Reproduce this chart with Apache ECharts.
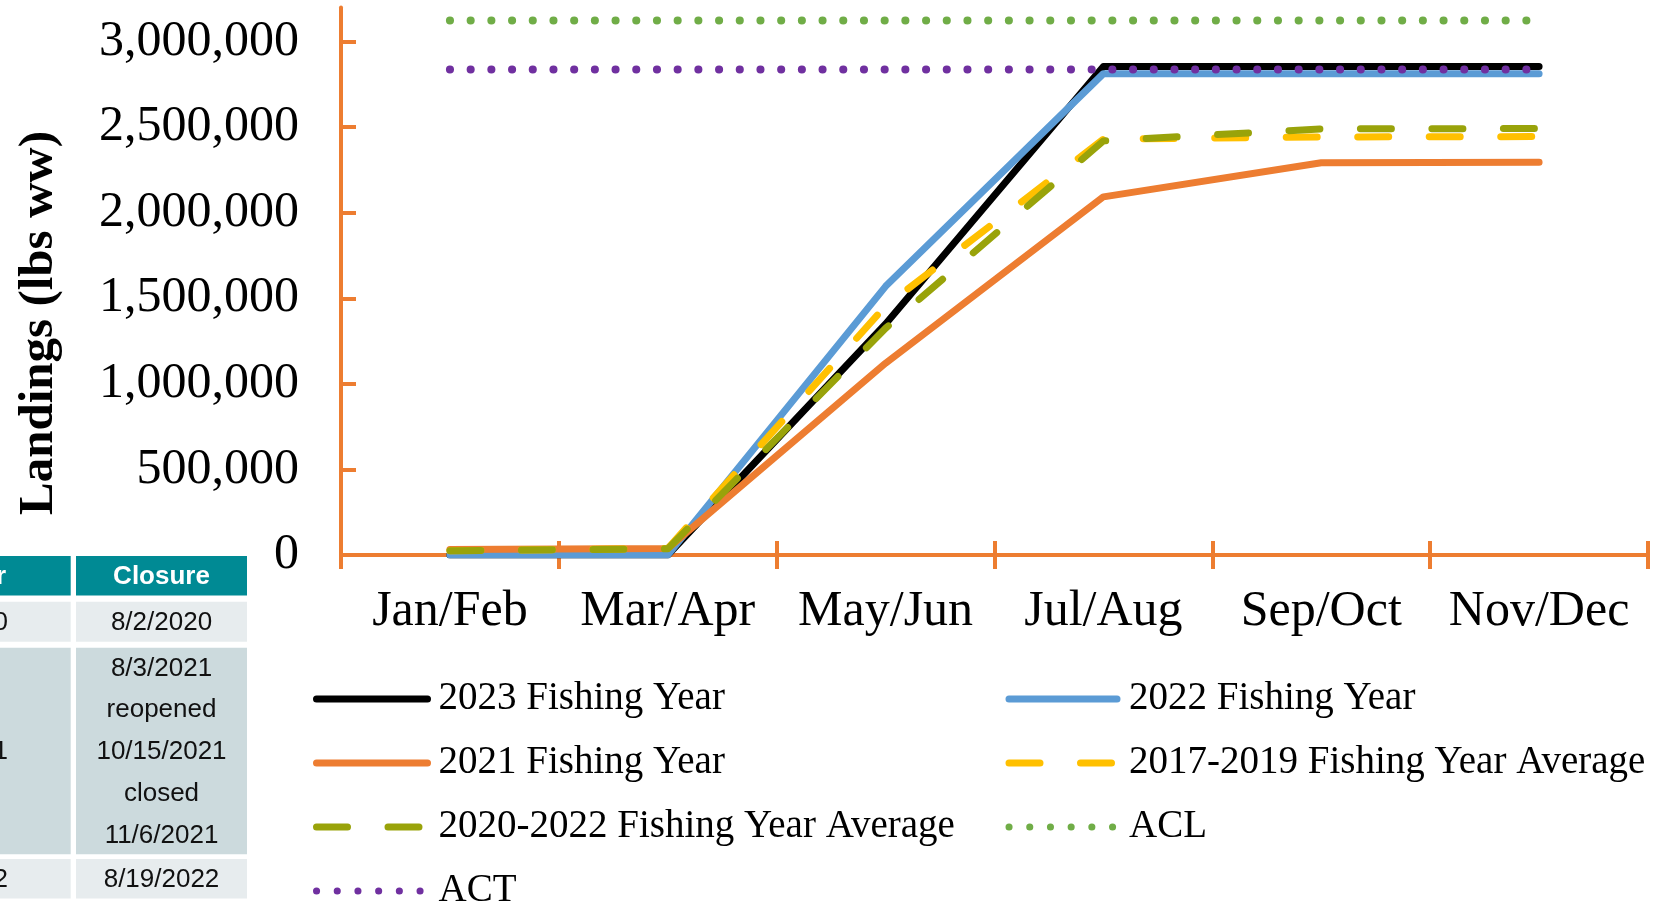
<!DOCTYPE html>
<html><head><meta charset="utf-8">
<script src="https://cdn.jsdelivr.net/npm/echarts@6/dist/echarts.min.js"></script>
<style>html,body{margin:0;padding:0;background:#fff}#c{width:1655px;height:905px}</style>
</head><body><div id="c"></div>
<script>
// ---- data ----
const categories = ['Jan/Feb', 'Mar/Apr', 'May/Jun', 'Jul/Aug', 'Sep/Oct', 'Nov/Dec'];
const yTicks = [0, 500000, 1000000, 1500000, 2000000, 2500000, 3000000];
const yMax = 3200000;
const fy2023 = [0, 0, 1350000, 2855000, 2855000, 2855000];
const fy2022 = [0, 0, 1570000, 2813000, 2813000, 2813000];
const fy2021 = [32000, 38000, 1121000, 2093000, 2292000, 2295000];
const avg2017_2019 = [25000, 38000, 1455000, 2430000, 2443000, 2445000];
const avg2020_2022 = [25000, 36000, 1325000, 2420000, 2490000, 2492000];
const aclValues = [3123000, 3123000, 3123000, 3123000, 3123000, 3123000];
const actValues = [2837000, 2837000, 2837000, 2837000, 2837000, 2837000];
const seriesNames = ['2023 Fishing Year', '2022 Fishing Year', '2021 Fishing Year',
  '2017-2019 Fishing Year Average', '2020-2022 Fishing Year Average', 'ACL', 'ACT'];
const yAxisTitle = 'Landings (lbs ww)';
const tableHeader = ['Year', 'Closure'];
const tableYears = ['2020', '2021', '2022'];
const tableClosures = [['8/2/2020'], ['8/3/2021', 'reopened', '10/15/2021', 'closed', '11/6/2021'], ['8/19/2022']];

// ---- styles ----
const AX = '#ED7D31';
const SERIF = '"Liberation Serif", "Times New Roman", serif';
const SANS = '"Liberation Sans Narrow", "Arial Narrow", "Liberation Sans", Arial, sans-serif';
const LW = 7;
const DASH = [31, 40.5];
const DOT = [0.1, 20.6];

function mk(name, data, color, type, width) {
  return {
    name, type: 'line', data, symbol: 'none', silent: true,
    lineStyle: { color, width: width || LW, type, cap: 'round', join: 'round' },
    itemStyle: { color }
  };
}
const series = [
  mk(seriesNames[0], fy2023, '#000000', 'solid'),
  mk(seriesNames[1], fy2022, '#5B9BD5', 'solid'),
  mk(seriesNames[2], fy2021, '#ED7D31', 'solid'),
  mk(seriesNames[3], avg2017_2019, '#FFC000', DASH),
  mk(seriesNames[4], avg2020_2022, '#99A30A', DASH),
  mk(seriesNames[5], aclValues, '#70AD47', DOT, 8),
  mk(seriesNames[6], actValues, '#7030A0', DOT, 8)
];

// ---- graphics: axis title and table ----
const graphics = [];
graphics.push({
  type: 'text', x: 39, y: 323, rotation: Math.PI / 2, silent: true,
  style: { text: yAxisTitle, font: 'bold 49px ' + SERIF, fill: '#000',
    align: 'center', verticalAlign: 'middle', textAlign: 'center', textVerticalAlign: 'middle' }
});
const colA = { x: -40, w: 110.7, tx: 8 };
const colB = { x: 76, w: 171, tx: 161.5 };
const rowsGeom = [
  { y: 556, h: 39.5, fill: '#008A94' },
  { y: 601.7, h: 40, fill: '#E7ECEE' },
  { y: 647.7, h: 206.6, fill: '#CCDADD' },
  { y: 859, h: 39.5, fill: '#E7ECEE' }
];
rowsGeom.forEach((r) => {
  graphics.push({ type: 'rect', silent: true, shape: { x: colA.x, y: r.y, width: colA.w, height: r.h }, style: { fill: r.fill } });
  graphics.push({ type: 'rect', silent: true, shape: { x: colB.x, y: r.y, width: colB.w, height: r.h }, style: { fill: r.fill } });
});
function txt(t, x, y, align, bold, color) {
  graphics.push({ type: 'text', x, y, silent: true,
    style: { text: t, font: (bold ? 'bold ' : '') + '26px ' + SANS, fill: color,
      align, verticalAlign: 'middle', textAlign: align, textVerticalAlign: 'middle' } });
}
txt(tableHeader[0], 6, 577, 'right', true, '#fff');
txt(tableHeader[1], colB.tx, 577, 'center', true, '#fff');
const lineH = 41.7;
tableYears.forEach((yr, i) => {
  const r = rowsGeom[i + 1];
  const cy = r.y + r.h / 2 + 1;
  txt(yr, colA.tx, cy, 'right', false, '#111');
  const lines = tableClosures[i];
  const start = cy - (lines.length - 1) * lineH / 2;
  lines.forEach((l, k) => txt(l, colB.tx, start + k * lineH, 'center', false, '#111'));
});

const legendCommon = {
  orient: 'vertical', padding: 0, itemGap: 25, itemHeight: 1, height: 260,
  itemStyle: { opacity: 0 },
  lineStyle: { width: LW },
  selectedMode: false
};
const legendText = { fontFamily: SERIF, fontSize: 39, color: '#000', lineHeight: 30 };

const option = {
  animation: false,
  backgroundColor: '#fff',
  grid: { left: 341, right: 7, top: 7.4, bottom: 350, containLabel: false, outerBoundsMode: 'none' },
  xAxis: [{
    type: 'category', data: categories, boundaryGap: true,
    axisLine: { show: true, lineStyle: { color: AX, width: 4 } },
    axisTick: { show: true, inside: false, length: 14, lineStyle: { color: AX, width: 4 } },
    axisLabel: { interval: 0, fontFamily: SERIF, fontSize: 50, color: '#000', margin: 32 },
    splitLine: { show: false }
  }, {
    type: 'category', data: categories, boundaryGap: true, position: 'bottom',
    axisLine: { show: false },
    axisTick: { show: true, inside: true, length: 14, lineStyle: { color: AX, width: 4 } },
    axisLabel: { show: false }, splitLine: { show: false }
  }],
  yAxis: {
    type: 'value', min: 0, max: yMax, interval: 500000,
    axisLine: { show: true, lineStyle: { color: AX, width: 4 } },
    axisTick: { show: true, inside: true, length: 15, lineStyle: { color: AX, width: 4 }, customValues: yTicks },
    axisLabel: { fontFamily: SERIF, fontSize: 50, color: '#000', margin: 42, customValues: yTicks,
      formatter: v => Number(v).toLocaleString('en-US') },
    splitLine: { show: false }
  },
  legend: [
    Object.assign({}, legendCommon, { left: 313, top: 679.5, itemWidth: 111,
      data: [seriesNames[0], seriesNames[2], seriesNames[4], seriesNames[6]],
      textStyle: Object.assign({}, legendText, { padding: [0, 0, 0, 6] }) }),
    Object.assign({}, legendCommon, { left: 1005.5, top: 679.5, itemWidth: 108,
      data: [seriesNames[1], seriesNames[3], seriesNames[5]],
      textStyle: Object.assign({}, legendText, { padding: [0, 0, 0, 7] }) })
  ],
  graphic: graphics,
  series
};
const chart = echarts.init(document.getElementById('c'), null, { renderer: 'canvas' });
chart.setOption(option);
</script>
</body></html>
